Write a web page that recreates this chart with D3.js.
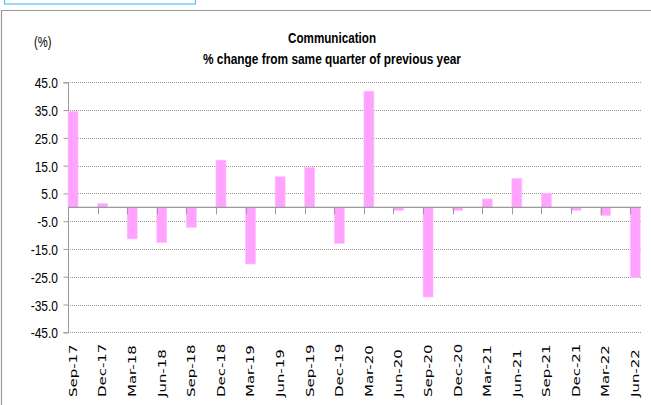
<!DOCTYPE html>
<html>
<head>
<meta charset="utf-8">
<script src="https://cdn.jsdelivr.net/npm/d3@7"></script>
<style>
  html, body { margin: 0; padding: 0; background: #fff; }
  svg { display: block; }
</style>
</head>
<body>
<svg id="chart" width="651" height="405"></svg>
<script>
// Quarterly categories (x axis)
const categories = ["Sep-17", "Dec-17", "Mar-18", "Jun-18", "Sep-18", "Dec-18", "Mar-19", "Jun-19",
  "Sep-19", "Dec-19", "Mar-20", "Jun-20", "Sep-20", "Dec-20", "Mar-21", "Jun-21",
  "Sep-21", "Dec-21", "Mar-22", "Jun-22"];

// % change from same quarter of previous year
const values = [34.5, 1.4, -11.4, -12.7, -7.2, 17.0, -20.4, 11.0,
  14.3, -13.0, 41.8, -1.2, -32.3, -1.2, 3.0, 10.4,
  5.1, -1.1, -3.0, -25.2];

// Value-axis tick labels
const yTicks = [-45, -35, -25, -15, -5, 5, 15, 25, 35, 45];

const titleLines = ["Communication", "% change from same quarter of previous year"];
const unitLabel = "(%)";

const data = categories.map((c, i) => ({ c, v: values[i] }));

const svg = d3.select("#chart");

const plot = { left: 68, right: 641, top: 82.3, bottom: 332.3 };
const step = 29.59;
const barWidth = 10;

const x = d3.scaleBand()
  .domain(categories)
  .range([plot.left, plot.left + categories.length * step]);

const y = d3.scaleLinear()
  .domain([-45, 45])
  .range([plot.bottom, plot.top]);

// Outer frame pieces
svg.append("rect")
  .attr("x", 4.5).attr("y", -5).attr("width", 191).attr("height", 9)
  .attr("fill", "none").attr("stroke", "#55c3f2").attr("stroke-width", 1.2);

svg.append("path")
  .attr("d", "M1.5,405 V10.5 H651")
  .attr("fill", "none").attr("stroke", "#9a9a9a").attr("stroke-width", 1.2);

// Titles
const titleY = [43, 64];
const titleLen = [88, 258];
svg.selectAll("text.title")
  .data(titleLines)
  .join("text")
  .attr("class", "title")
  .attr("x", 332)
  .attr("y", (d, i) => titleY[i])
  .attr("text-anchor", "middle")
  .attr("textLength", (d, i) => titleLen[i])
  .attr("lengthAdjust", "spacingAndGlyphs")
  .style("font-family", "'Liberation Sans', Arial, sans-serif")
  .style("font-weight", "bold")
  .style("font-size", "15px")
  .attr("fill", "#000")
  .text(d => d);

svg.append("text")
  .attr("transform", "translate(34,47) scale(0.75,1)")
  .style("font-family", "'Liberation Sans', Arial, sans-serif")
  .style("font-size", "15px")
  .attr("fill", "#000")
  .text(unitLabel);

// Dotted gridlines
svg.append("g")
  .selectAll("line")
  .data(yTicks)
  .join("line")
  .attr("x1", plot.left).attr("x2", plot.right)
  .attr("y1", d => Math.round(y(d)) + 0.5).attr("y2", d => Math.round(y(d)) + 0.5)
  .attr("stroke", "#999")
  .attr("stroke-width", 1)
  .attr("stroke-dasharray", "1,1");

// Value axis
const yAxis = svg.append("g")
  .attr("transform", `translate(${plot.left},0)`)
  .call(d3.axisLeft(y).tickValues(yTicks).tickSize(4.5).tickPadding(0).tickFormat(d => d.toFixed(1)));
yAxis.select(".domain").attr("stroke", "#9a9a9a");
yAxis.selectAll(".tick line").attr("stroke", "#9a9a9a");
yAxis.selectAll(".tick text")
  .attr("x", null).attr("dy", null)
  .attr("transform", "translate(-10,5.5) scale(0.8,1)")
  .attr("fill", "#000")
  .style("font-family", "'Liberation Sans', Arial, sans-serif")
  .style("font-size", "15px");

// Bars
svg.append("g")
  .selectAll("rect")
  .data(data)
  .join("rect")
  .attr("x", d => x(d.c))
  .attr("width", barWidth)
  .attr("y", d => y(Math.max(0, d.v)))
  .attr("height", d => Math.abs(y(d.v) - y(0)))
  .attr("fill", "#ffa3ff")
  .attr("stroke", "#ffc0ff")
  .attr("stroke-width", 0.6);

// Category axis along zero, ticks between categories
const x0 = y(0);
svg.append("line")
  .attr("x1", plot.left).attr("x2", plot.right)
  .attr("y1", x0).attr("y2", x0)
  .attr("stroke", "#9a9a9a").attr("stroke-width", 1.2);

svg.append("g")
  .selectAll("line")
  .data(categories.slice(1))
  .join("line")
  .attr("x1", d => Math.round(x(d)) + 0.5).attr("x2", d => Math.round(x(d)) + 0.5)
  .attr("y1", x0).attr("y2", x0 + 7)
  .attr("stroke", "#9a9a9a");

// Category labels, rotated, along the bottom
svg.append("g")
  .selectAll("text")
  .data(categories)
  .join("text")
  .attr("transform", d => `translate(${x(d) + barWidth / 2},397) rotate(-90) scale(1.36,1)`)
  .attr("dy", "0.35em")
  .attr("text-anchor", "start")
  .style("font-family", "'DejaVu Sans', Verdana, sans-serif")
  .style("font-size", "11px")
  .attr("fill", "#000")
  .text(d => d);
</script>
</body>
</html>
